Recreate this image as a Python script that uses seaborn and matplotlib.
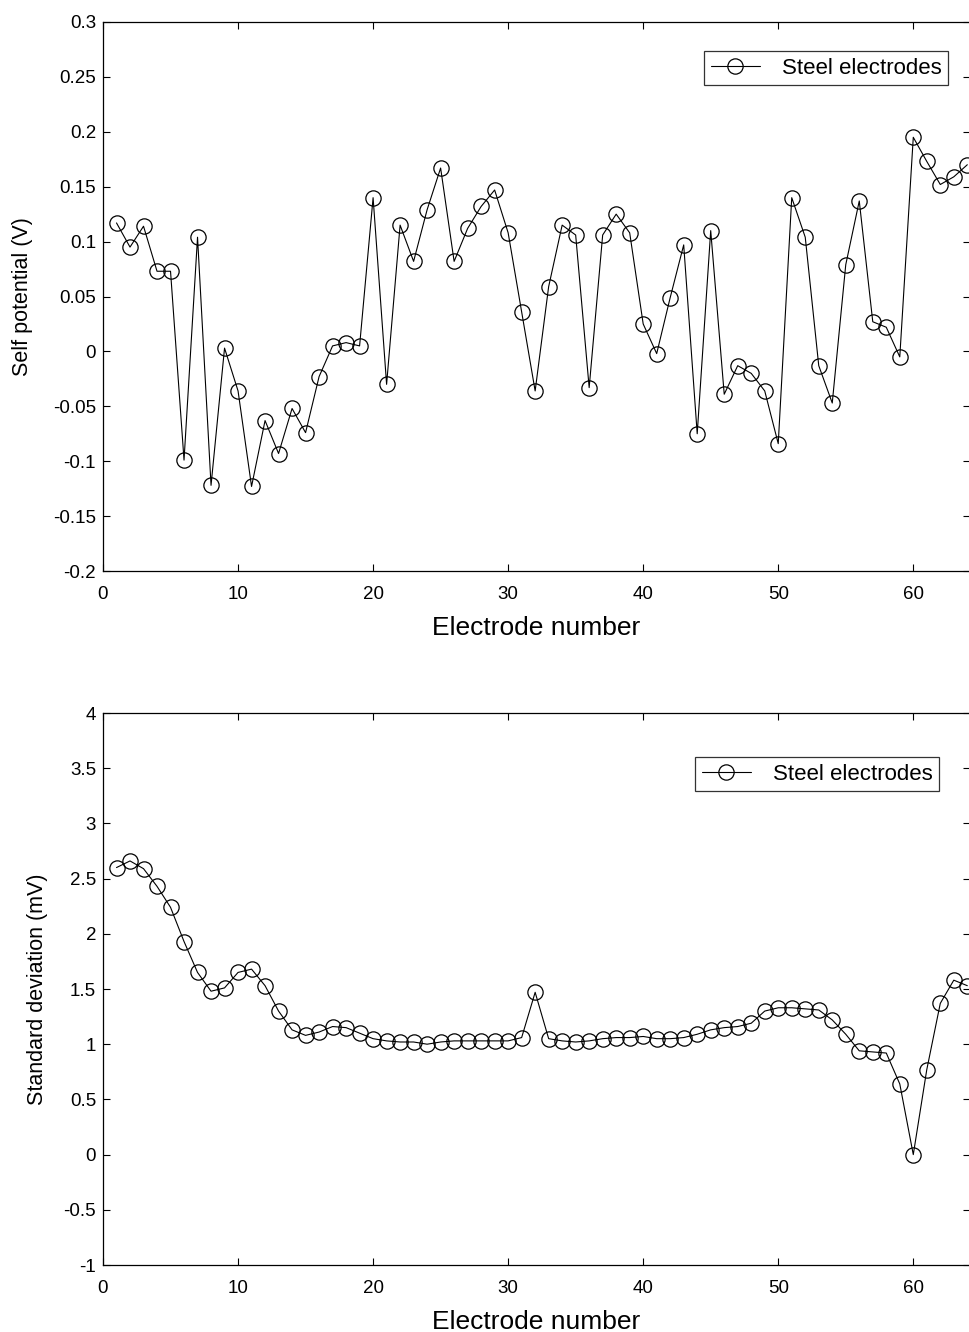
import matplotlib
matplotlib.use("Agg")
import matplotlib.pyplot as plt
import seaborn as sns
import numpy as np
import pandas as pd

# electrode numbers 1..64
electrodes = list(range(1, 65))

# self potential (V)
self_potential = [
    0.117, 0.095, 0.114, 0.073, 0.073, -0.099, 0.104, -0.122, 0.003, -0.036,
    -0.123, -0.063, -0.093, -0.052, -0.074, -0.023, 0.005, 0.008, 0.005, 0.140,
    -0.030, 0.115, 0.082, 0.129, 0.167, 0.082, 0.112, 0.132, 0.147, 0.108,
    0.036, -0.036, 0.059, 0.115, 0.106, -0.033, 0.106, 0.125, 0.108, 0.025,
    -0.002, 0.049, 0.097, -0.075, 0.110, -0.039, -0.013, -0.020, -0.036, -0.084,
    0.140, 0.104, -0.013, -0.047, 0.079, 0.137, 0.027, 0.022, -0.005, 0.195,
    0.173, 0.152, 0.159, 0.170,
]

# standard deviation (mV)
std_dev = [
    2.60, 2.66, 2.59, 2.43, 2.24, 1.93, 1.65, 1.48, 1.51, 1.65,
    1.68, 1.53, 1.30, 1.13, 1.08, 1.11, 1.16, 1.15, 1.10, 1.05,
    1.03, 1.02, 1.02, 1.00, 1.02, 1.03, 1.03, 1.03, 1.03, 1.03,
    1.06, 1.47, 1.05, 1.03, 1.02, 1.03, 1.05, 1.06, 1.06, 1.07,
    1.05, 1.05, 1.06, 1.09, 1.13, 1.15, 1.16, 1.19, 1.30, 1.33,
    1.33, 1.32, 1.31, 1.22, 1.09, 0.94, 0.93, 0.92, 0.64, 0.00,
    0.77, 1.37, 1.58, 1.53,
]

sp_ticklabels = ["-0.2", "-0.15", "-0.1", "-0.05", "0", "0.05", "0.1",
                 "0.15", "0.2", "0.25", "0.3"]
sd_ticklabels = ["-1", "-0.5", "0", "0.5", "1", "1.5", "2", "2.5", "3", "3.5", "4"]

df = pd.DataFrame({"electrode": electrodes, "sp": self_potential, "sd": std_dev})

sns.set_style("ticks")
plt.rcParams["font.family"] = ["Liberation Sans", "DejaVu Sans"]
plt.rcParams["text.color"] = "black"
plt.rcParams["axes.labelcolor"] = "black"
plt.rcParams["xtick.color"] = "black"
plt.rcParams["ytick.color"] = "black"

W, H = 969, 1332
fig = plt.figure(figsize=(W / 100, H / 100), dpi=100, facecolor="white")

def px_axes(left, top, right, bottom):
    return fig.add_axes([left / W, 1 - bottom / H, (right - left) / W, (bottom - top) / H])

ax1 = px_axes(103, 22, 970, 571)
ax2 = px_axes(103, 713, 970, 1265)

style = dict(color="black", linewidth=0.8, marker="o", markersize=11,
             markerfacecolor="none", markeredgecolor="black", markeredgewidth=0.9)

sns.lineplot(data=df, x="electrode", y="sp", ax=ax1, label="Steel electrodes", **style)
sns.lineplot(data=df, x="electrode", y="sd", ax=ax2, label="Steel electrodes", **style)

ax1.set_ylim(-0.2, 0.3)
ax1.set_yticks(np.arange(-0.2, 0.301, 0.05))
ax1.set_yticklabels(sp_ticklabels)
ax1.set_ylabel("Self potential (V)", fontsize=15.5)
ax1.yaxis.set_label_coords((33 - 103) / 867, 0.5)

ax2.set_ylim(-1, 4)
ax2.set_yticks(np.arange(-1, 4.01, 0.5))
ax2.set_yticklabels(sd_ticklabels)
ax2.set_ylabel("Standard deviation (mV)", fontsize=15.5)
ax2.yaxis.set_label_coords((48 - 103) / 867, 0.5)

for ax in (ax1, ax2):
    ax.set_xlim(0, 64.2)
    ax.set_xticks([0, 10, 20, 30, 40, 50, 60])
    ax.set_xlabel("Electrode number", fontsize=19, labelpad=9)
    ax.tick_params(direction="in", top=True, right=True, labelsize=13.5,
                   length=5, width=0.8, colors="black")
    ax.tick_params(axis="x", pad=11)
    ax.tick_params(axis="y", pad=5)
    for s in ax.spines.values():
        s.set_linewidth(0.9)
        s.set_color("black")
    ax.spines["right"].set_visible(False)
    ax.grid(False)

leg_kw = dict(loc="upper left", fontsize=16, frameon=True, fancybox=False,
              edgecolor="black", borderpad=0.3, handlelength=2.2,
              handletextpad=1.0, borderaxespad=0)
leg1 = ax1.legend(bbox_to_anchor=((704 - 103) / 867, 1 - (51 - 22) / 549), **leg_kw)
leg2 = ax2.legend(bbox_to_anchor=((695 - 103) / 867, 1 - (757 - 713) / 552), **leg_kw)
for leg in (leg1, leg2):
    leg.get_frame().set_linewidth(0.9)
    for h in leg.legend_handles:
        h.set_markersize(11)

fig.savefig("out.png", dpi=100, facecolor="white")
